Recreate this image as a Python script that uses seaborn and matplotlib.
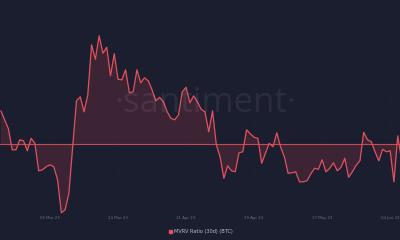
import numpy as np
import pandas as pd
import matplotlib
matplotlib.use("Agg")
import matplotlib.pyplot as plt
import seaborn as sns

# ---- data ----
start_date = "2023-02-21"
mvrv_30d = [
    6.7, 4.9, 3.1, -1.1, -1.1, 0.9, 0.7, -1.3, 1.2, 0.2,
    -5.3, -5.1, -4.5, -4.1, -4.5, -7.1, -13.7, -13.1, -9.8, -0.5,
    8.7, 9.5, 6.5, 9.9, 19.9, 17.0, 21.7, 18.2, 19.4, 13.7,
    18.1, 13.0, 12.9, 14.9, 10.3, 10.5, 14.9, 12.3, 13.3, 12.7,
    10.9, 8.7, 9.4, 8.5, 6.5, 5.2, 4.9, 5.9, 10.5, 11.4,
    8.3, 9.7, 8.5, 7.0, 6.5, 2.5, 6.7, -0.1, -2.5, -6.8,
    -4.3, -5.3, -5.5, -1.7, -1.5, 2.9, 2.1, 1.4, 1.2, -3.8,
    -1.8, 0.2, -0.5, 2.3, -0.5, -2.5, -5.8, -5.7, -5.5, -7.5,
    -7.5, -7.3, -5.9, -4.8, -5.0, -3.1, -5.5, -4.8, -3.7, -5.3,
    -4.6, -2.8, -6.6, -5.5, -4.2, -3.3, 2.4, 0.9, 0.5, -1.5,
    -3.3, -1.0, -1.5, -1.3, -7.5, 1.7, -3.1,
]
tick_labels = ["06 Mar 23", "24 Mar 23", "11 Apr 23", "29 Apr 23", "17 May 23", "04 Jun 23"]
series_name = "MVRV Ratio (30d) (BTC)"

dates = pd.date_range(start_date, periods=len(mvrv_30d), freq="D")
df = pd.DataFrame({"date": dates, "value": mvrv_30d})
tick_dates = pd.to_datetime(tick_labels, format="%d %b %y")

BG = "#1b1e2f"
RED = "#e0525c"

sns.set_theme(style="dark")
plt.rcParams["font.family"] = ["DejaVu Sans"]

fig = plt.figure(figsize=(4, 2.4), dpi=100)
fig.patch.set_facecolor(BG)
ax = fig.add_axes([0, 25 / 240, 1, 210 / 240])
ax.set_facecolor(BG)

x0 = tick_dates[0]
ax.set_xlim(x0 - pd.Timedelta(days=13.23), x0 + pd.Timedelta(days=92.6))
ax.set_ylim(-14.14, 27.86)

# faint grid
for t in tick_dates:
    ax.axvline(t, color="#252939", lw=0.5, ls=(0, (1, 2)), zorder=0)

ax.fill_between(df["date"], df["value"], 0, color="#5a2a3a", alpha=0.55, lw=0, zorder=1)
ax.axhline(0, color="#c44a54", lw=0.8, zorder=2)
sns.lineplot(data=df, x="date", y="value", ax=ax, color=RED, lw=0.9, zorder=3, legend=False)

# watermark
ax.text(0.5125, 0.535, "·santiment·", transform=ax.transAxes, ha="center", va="center",
        fontsize=25, color="white", alpha=0.07, family="Open Sans", zorder=4)

ax.set_xticks(tick_dates)
ax.set_xticklabels(tick_labels, fontsize=2.8, color="#6a6f82")
ax.tick_params(axis="x", length=0, pad=1)
ax.set_yticks([])
ax.set_xlabel("")
ax.set_ylabel("")
for s in ax.spines.values():
    s.set_visible(False)

# legend
fig.patches.append(plt.Rectangle((168.5 / 400, 1 - 233 / 240), 3 / 400, 3 / 240,
                                 transform=fig.transFigure, color=RED, figure=fig))
fig.text(174 / 400, 1 - 231.5 / 240, series_name, fontsize=3.6, color="#b8bccb",
         ha="left", va="center")

fig.savefig("out.png", dpi=100, facecolor=BG)
